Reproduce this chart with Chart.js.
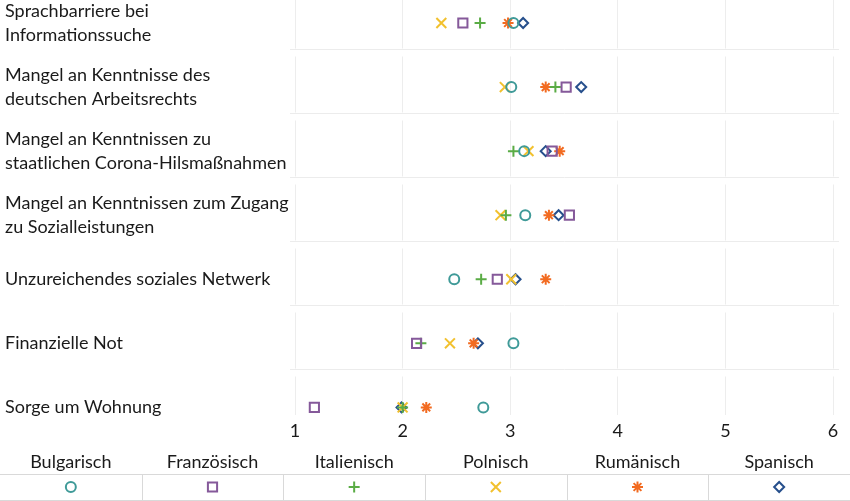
<!DOCTYPE html>
<html lang="de">
<head>
  <meta charset="UTF-8">
  <title>Barrieren nach Sprache</title>
  <script src="https://cdn.jsdelivr.net/npm/chart.js"></script>
  <style>
    html, body { margin: 0; padding: 0; background: #fff; }
    #wrap { width: 850px; height: 501px; position: relative; }
  </style>
</head>
<body>
  <div id="wrap"><canvas id="chart"></canvas></div>

  <script>
    // rows, top to bottom
    const CATEGORIES = [
      ['Sprachbarriere bei', 'Informationssuche'],
      ['Mangel an Kenntnisse des', 'deutschen Arbeitsrechts'],
      ['Mangel an Kenntnissen zu', 'staatlichen Corona-Hilsmaßnahmen'],
      ['Mangel an Kenntnissen zum Zugang', 'zu Sozialleistungen'],
      'Unzureichendes soziales Netwerk',
      'Finanzielle Not',
      'Sorge um Wohnung'
    ];
    const SERIES = ['Bulgarisch', 'Französisch', 'Italienisch', 'Polnisch', 'Rumänisch', 'Spanisch'];
    const X_TICKS = [1, 2, 3, 4, 5, 6];

    const bulgarisch  = [3.03, 3.01, 3.13, 3.14, 2.48, 3.03, 2.75];
    const franzoesisch = [2.56, 3.52, 3.39, 3.55, 2.88, 2.13, 1.18];
    const italienisch = [2.72, 3.42, 3.03, 2.96, 2.73, 2.17, 2.00];
    const polnisch    = [2.36, 2.95, 3.17, 2.91, 3.01, 2.44, 2.00];
    const rumaenisch  = [2.98, 3.33, 3.46, 3.36, 3.33, 2.66, 2.22];
    const spanisch    = [3.12, 3.66, 3.33, 3.45, 3.05, 2.70, 1.99];

    const VALUES = [bulgarisch, franzoesisch, italienisch, polnisch, rumaenisch, spanisch];

    // marker look per series
    const STYLES = [
      { color: '#3f9a98', point: 'circle',   r: 5 },
      { color: '#85599a', point: 'rect',     r: 6.5 },
      { color: '#5aac45', point: 'cross',    r: 5.5 },
      { color: '#f2c12e', point: 'crossRot', r: 7 },
      { color: '#f26b21', point: 'star',     r: 5.5 },
      { color: '#264f8c', point: 'rectRot',  r: 5 }
    ];

    const FONT = 'Lato, "Open Sans", sans-serif';
    const TEXT = '#1a1a1a';

    const datasets = SERIES.map((name, s) => ({
      label: name,
      data: VALUES[s].map((v, i) => ({ x: v, y: i })),
      pointStyle: STYLES[s].point,
      pointRadius: STYLES[s].r,
      pointHoverRadius: STYLES[s].r,
      pointBorderWidth: 2,
      borderColor: STYLES[s].color,
      backgroundColor: 'rgba(0,0,0,0)',
      showLine: false,
      clip: false
    }));

    // faint row separators with a small break in the vertical grid below them
    const rowSeparators = {
      id: 'rowSeparators',
      beforeDatasetsDraw(chart) {
        const { ctx, chartArea: a, scales: { y } } = chart;
        ctx.save();
        for (let i = 0; i < CATEGORIES.length - 1; i++) {
          const py = Math.round(y.getPixelForValue(i + 0.4)) + 0.5;
          ctx.fillStyle = '#fff';
          ctx.fillRect(a.left - 5, py - 1, a.width + 12, 8);
          ctx.strokeStyle = '#ececec';
          ctx.lineWidth = 1;
          ctx.beginPath();
          ctx.moveTo(a.left - 5, py);
          ctx.lineTo(a.right + 6, py);
          ctx.stroke();
        }
        ctx.restore();
      }
    };

    // table-style legend under the axis
    const legendTable = {
      id: 'legendTable',
      afterDraw(chart) {
        const { ctx, width } = chart;
        const colW = width / SERIES.length;
        const headY = 462, lineY = 474.5, markY = 487;
        ctx.save();
        ctx.font = '18px ' + FONT;
        ctx.fillStyle = TEXT;
        ctx.textAlign = 'center';
        ctx.textBaseline = 'middle';
        SERIES.forEach((name, i) => ctx.fillText(name, colW * (i + 0.5), headY));

        ctx.strokeStyle = '#d9d9d9';
        ctx.lineWidth = 1;
        ctx.beginPath();
        ctx.moveTo(0, lineY); ctx.lineTo(width, lineY);
        ctx.moveTo(0, 500.5); ctx.lineTo(width, 500.5);
        for (let k = 1; k < SERIES.length; k++) {
          const x = Math.round(colW * k) + 0.5;
          ctx.moveTo(x, lineY); ctx.lineTo(x, 501);
        }
        ctx.stroke();

        chart.data.datasets.forEach((ds, i) => {
          ctx.strokeStyle = ds.borderColor;
          ctx.fillStyle = 'rgba(0,0,0,0)';
          ctx.lineWidth = 2;
          Chart.helpers.drawPoint(ctx, {
            pointStyle: ds.pointStyle, radius: ds.pointRadius, borderWidth: 2, rotation: 0
          }, colW * (i + 0.5), markY);
        });
        ctx.restore();
      }
    };

    new Chart(document.getElementById('chart'), {
      type: 'scatter',
      data: { datasets },
      options: {
        responsive: true,
        maintainAspectRatio: false,
        animation: false,
        events: [],
        layout: { autoPadding: false, padding: { left: 5, right: 17, top: 0, bottom: 54 } },
        plugins: { legend: { display: false }, tooltip: { enabled: false } },
        scales: {
          x: {
            type: 'linear',
            min: 1, max: 6,
            afterBuildTicks: s => { s.ticks = X_TICKS.map(v => ({ value: v })); },
            grid: { color: '#ededed', drawTicks: false },
            border: { display: false },
            ticks: { color: TEXT, font: { family: FONT, size: 18 }, padding: 5 }
          },
          y: {
            type: 'linear',
            reverse: true,
            min: -0.359, max: 6.125,
            afterBuildTicks: s => { s.ticks = CATEGORIES.map((_, i) => ({ value: i })); },
            afterFit: s => { s.width = 290; s.paddingTop = 0; s.paddingBottom = 0; },
            grid: { display: false },
            border: { display: false },
            ticks: {
              crossAlign: 'far',
              color: TEXT,
              font: { family: FONT, size: 18, lineHeight: 1.33 },
              callback: v => CATEGORIES[v]
            }
          }
        }
      },
      plugins: [rowSeparators, legendTable]
    });
  </script>
</body>
</html>
